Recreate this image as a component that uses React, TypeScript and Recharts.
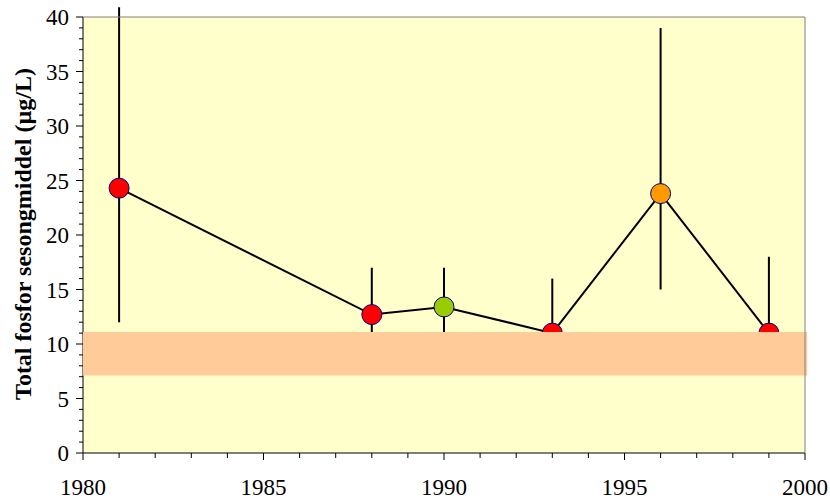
import React from 'react';
import {
  ComposedChart,
  Line,
  XAxis,
  YAxis,
  CartesianGrid,
  ReferenceArea,
  ReferenceLine,
} from 'recharts';

const years = [1981, 1988, 1990, 1993, 1996, 1999];
const values = [24.3, 12.7, 13.4, 11.0, 23.8, 11.0];
const errLow = [12, 10.5, 10.5, 10, 15, 10];
const errHigh = [40.9, 17, 17, 16, 39, 18];
const pointColors = ['#FF0000', '#FF0000', '#99CC00', '#FF0000', '#FF9900', '#FF0000'];

const xTicks = [
  1980, 1981, 1982, 1983, 1984, 1985, 1986, 1987, 1988, 1989, 1990,
  1991, 1992, 1993, 1994, 1995, 1996, 1997, 1998, 1999, 2000,
];
const yTicks = [
  0, 1, 2, 3, 4, 5, 6, 7, 8, 9, 10, 11, 12, 13, 14, 15, 16, 17, 18, 19, 20,
  21, 22, 23, 24, 25, 26, 27, 28, 29, 30, 31, 32, 33, 34, 35, 36, 37, 38, 39, 40,
];
const bandLow = 7.1;
const bandHigh = 11.1;
const yLabel = 'Total fosfor sesongmiddel (µg/L)';

const data = years.map((y, i) => ({
  year: y,
  value: values[i],
  color: pointColors[i],
}));

const FONT = "'Liberation Serif', 'Times New Roman', Times, serif";

const renderXTick = (props: any) => {
  const { x, y, payload, index } = props;
  const v = payload.value as number;
  const major = v % 5 === 0;
  return (
    <g key={`xt${index}`}>
      <line x1={x} x2={x} y1={y} y2={y + (major ? 7 : 5)} stroke="#000" strokeWidth={1} />
      {major && (
        <text
          x={x}
          y={y + 42}
          textAnchor="middle"
          fontFamily={FONT}
          fontSize={23}
          fill="#000"
          style={{ fontFamily: FONT, fontSize: '23px' }}
        >
          {String(v)}
        </text>
      )}
    </g>
  );
};

const renderYTick = (props: any) => {
  const { x, y, payload, index } = props;
  const v = payload.value as number;
  const major = v % 5 === 0;
  return (
    <g key={`yt${index}`}>
      <line x1={x - (major ? 7 : 4)} x2={x} y1={y} y2={y} stroke="#000" strokeWidth={1} />
      {major && (
        <text
          x={x - 14}
          y={y + 8}
          textAnchor="end"
          fontFamily={FONT}
          fontSize={23}
          fill="#000"
          style={{ fontFamily: FONT, fontSize: '23px' }}
        >
          {String(v)}
        </text>
      )}
    </g>
  );
};

const Dot = (props: any) => {
  const { cx, cy, payload, index } = props;
  if (cx == null || cy == null) return <g key={`d${index}`} />;
  return (
    <circle
      key={`d${index}`}
      cx={cx}
      cy={cy}
      r={10}
      fill={payload.color}
      stroke="#000080"
      strokeWidth={1}
    />
  );
};

export default function App() {
  return (
    <div
      style={{
        position: 'absolute',
        left: 0,
        top: 0,
        width: 830,
        height: 500,
        background: '#fff',
        fontFamily: FONT,
        fontSize: 23,
      }}
    >
      <ComposedChart
        width={830}
        height={500}
        data={data}
        margin={{ top: 17, right: 25, bottom: 0, left: 0 }}
        style={{ fontFamily: FONT, fontSize: 23 }}
      >
        <CartesianGrid horizontal={false} vertical={false} fill="#FFFFCC" fillOpacity={1} />
        <XAxis
          dataKey="year"
          type="number"
          domain={[1980, 2000]}
          ticks={xTicks}
          interval={0}
          height={47}
          tickSize={0}
          tickMargin={0}
          tickLine={false}
          tick={renderXTick}
          fontFamily={FONT}
          fontSize={23}
          axisLine={{ stroke: '#000', strokeWidth: 1 }}
        />
        <YAxis
          type="number"
          domain={[0, 40]}
          ticks={yTicks}
          interval={0}
          width={83}
          tickSize={0}
          tickMargin={0}
          tickLine={false}
          tick={renderYTick}
          fontFamily={FONT}
          fontSize={23}
          axisLine={{ stroke: '#000', strokeWidth: 1 }}
          label={{
            content: () => (
              <text
                x={23}
                y={234}
                transform="rotate(-90 23 234)"
                textAnchor="middle"
                dominantBaseline="central"
                style={{ fontFamily: FONT, fontWeight: 'bold', fontSize: 24, fill: '#000' }}
              >
                {yLabel}
              </text>
            ),
          }}
        />
        {years.map((yr, i) => (
          <ReferenceLine
            key={`e${yr}`}
            segment={[
              { x: yr, y: errLow[i] },
              { x: yr, y: errHigh[i] },
            ]}
            stroke="#000"
            strokeWidth={2}
            ifOverflow="visible"
            zIndex={300}
          />
        ))}
        <Line
          dataKey="value"
          type="linear"
          stroke="#000"
          strokeWidth={2}
          dot={Dot}
          activeDot={false}
          isAnimationActive={false}
          zIndex={400}
        />
        <ReferenceArea
          x1={1980}
          x2={2000.06}
          y1={bandLow}
          y2={bandHigh}
          fill="#FFCC99"
          fillOpacity={1}
          stroke="none"
          ifOverflow="visible"
          zIndex={2500}
        />
        <ReferenceLine y={40} stroke="#808080" strokeWidth={1} ifOverflow="visible" zIndex={2600} />
        <ReferenceLine x={2000} stroke="#808080" strokeWidth={1} ifOverflow="visible" zIndex={2600} />
      </ComposedChart>
    </div>
  );
}
